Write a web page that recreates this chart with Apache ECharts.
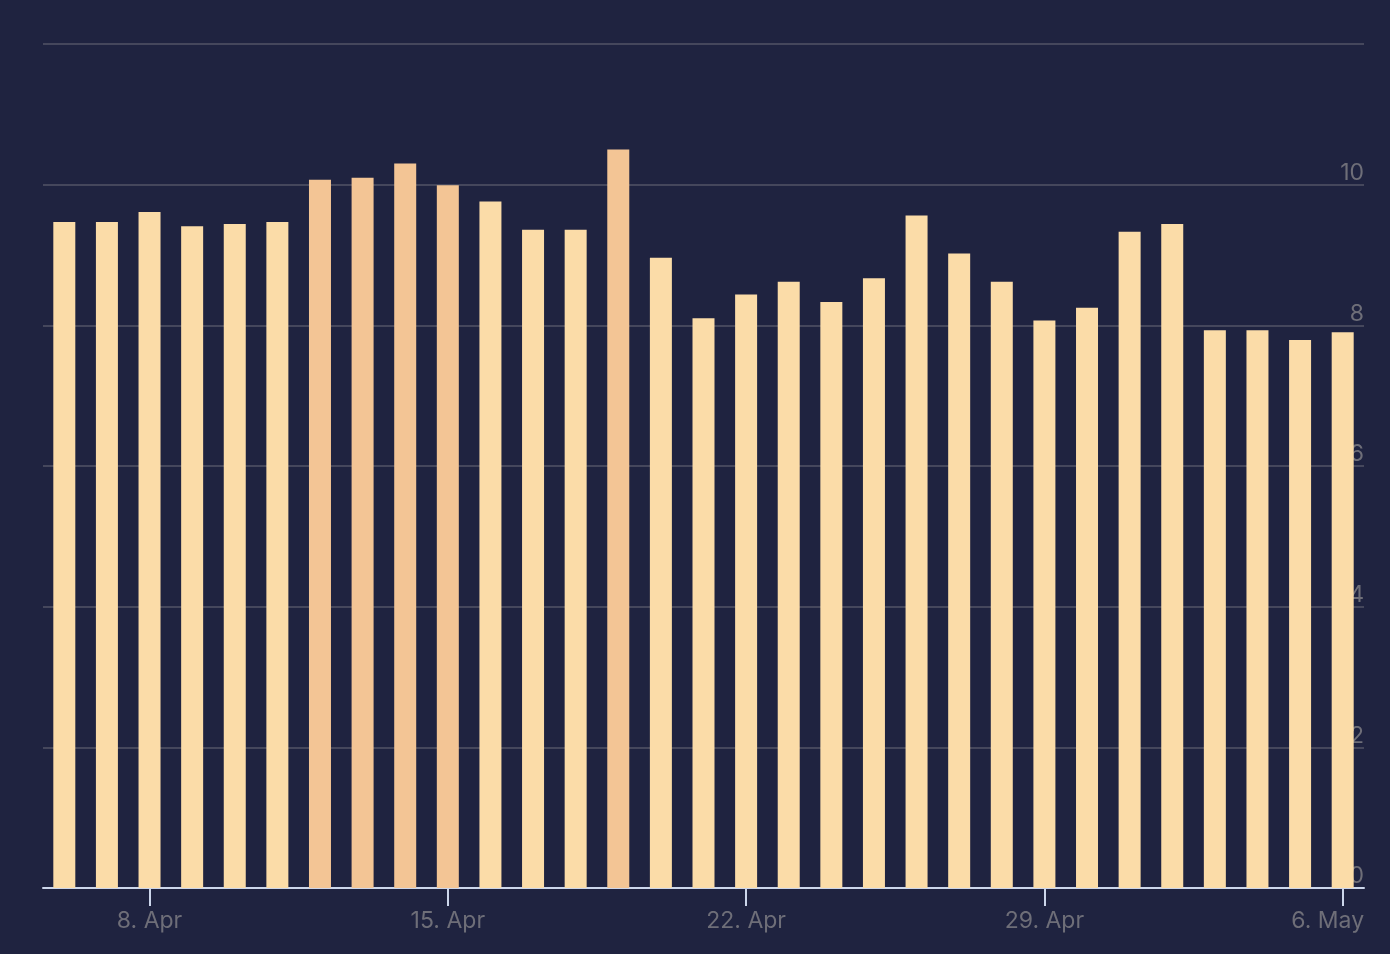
<!DOCTYPE html>
<html>
<head>
<meta charset="utf-8">
<script src="https://cdn.jsdelivr.net/npm/echarts@6/dist/echarts.min.js"></script>
<style>
  html, body { margin: 0; padding: 0; background: #1f2340; }
  #chart { width: 1390px; height: 954px; }
</style>
</head>
<body>
<div id="chart"></div>
<script>
  // days, 6. Apr .. 6. May
  var days = [
    '6. Apr', '7. Apr', '8. Apr', '9. Apr', '10. Apr', '11. Apr', '12. Apr',
    '13. Apr', '14. Apr', '15. Apr', '16. Apr', '17. Apr', '18. Apr', '19. Apr',
    '20. Apr', '21. Apr', '22. Apr', '23. Apr', '24. Apr', '25. Apr', '26. Apr',
    '27. Apr', '28. Apr', '29. Apr', '30. Apr', '1. May', '2. May', '3. May',
    '4. May', '5. May', '6. May'
  ];
  var values = [
    9.47, 9.47, 9.61, 9.41, 9.44, 9.47, 10.07,
    10.10, 10.30, 9.99, 9.76, 9.36, 9.36, 10.50,
    8.96, 8.10, 8.44, 8.62, 8.33, 8.67, 9.56,
    9.02, 8.62, 8.07, 8.25, 9.33, 9.44, 7.93,
    7.93, 7.79, 7.90
  ];
  var yTicks = [0, 2, 4, 6, 8, 10, 12];

  var showDay = function (i) { return i % 7 === 2; };

  var myCharts = echarts.init(document.getElementById('chart'));
  var option = {
    backgroundColor: '#1f2340',
    animation: false,
    grid: {
      left: 43,
      right: 26,
      top: 44,
      bottom: 66
    },
    xAxis: {
      type: 'category',
      data: days,
      axisLine: {
        lineStyle: { color: '#ccd6eb', width: 2 }
      },
      axisTick: {
        show: true,
        alignWithLabel: true,
        length: 18,
        interval: showDay,
        lineStyle: { color: '#ccd6eb', width: 2 }
      },
      axisLabel: {
        interval: showDay,
        color: '#6e6e78',
        fontFamily: 'Inter',
        fontSize: 23,
        margin: 22,
        formatter: function (v, i) {
          return i === days.length - 1 ? '{last|' + v + '}' : v;
        },
        rich: {
          last: {
            color: '#6e6e78',
            fontFamily: 'Inter',
            fontSize: 23,
            padding: [0, 30, 0, 0]
          }
        }
      }
    },
    yAxis: {
      type: 'value',
      position: 'right',
      min: yTicks[0],
      max: yTicks[yTicks.length - 1],
      interval: 2,
      axisLine: { show: false },
      axisTick: { show: false },
      splitLine: {
        lineStyle: { color: '#45475c', width: 2 }
      },
      axisLabel: {
        inside: true,
        showMaxLabel: false,
        verticalAlign: 'bottom',
        margin: 0,
        padding: [0, 0, 0, 0],
        color: '#6e6e78',
        fontFamily: 'Inter',
        fontSize: 23
      }
    },
    series: [
      {
        type: 'bar',
        data: values,
        barWidth: 22,
        itemStyle: {
          color: function (p) {
            return p.value >= 9.95 ? '#f3c595' : '#fbdca8';
          }
        }
      }
    ]
  };
  myCharts.setOption(option);
</script>
</body>
</html>
